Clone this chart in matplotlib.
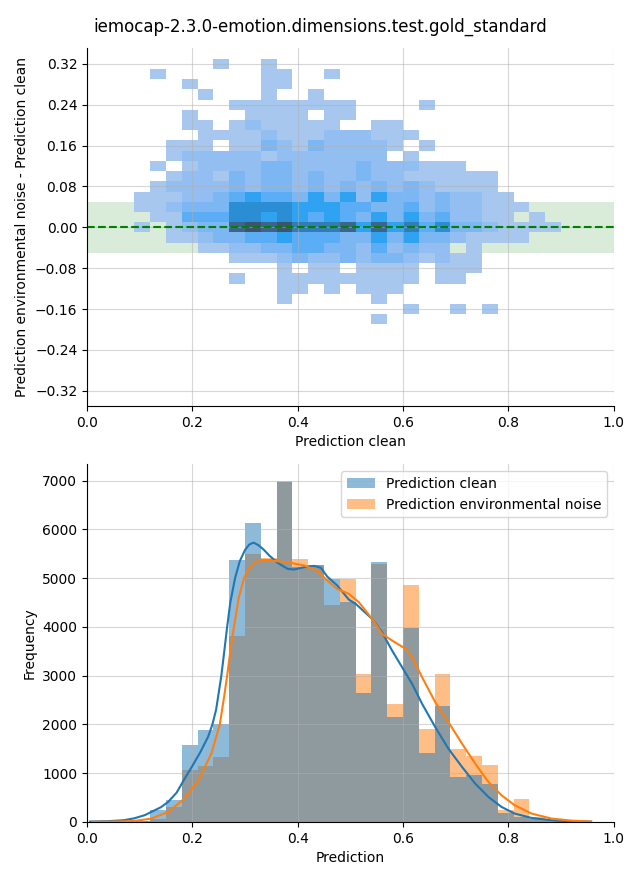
import numpy as np
import matplotlib
matplotlib.use("Agg")
import matplotlib.pyplot as plt
import seaborn as sns

title = "iemocap-2.3.0-emotion.dimensions.test.gold_standard"

# bins used by both panels
bin_width = 0.03
x_edges = np.round(np.arange(33) * bin_width, 3)
y_edges = np.round(-0.19 + np.arange(27) * 0.02, 3)

# top panel: 2D histogram read as shade levels (0 empty .. 9 darkest)
# one row per y bin, from top (0.32) to bottom (-0.18), one char per x bin
diff_rows = [
    "........1..1",
    "....1......11..1",
    "......1....11",
    ".......1...1..1",
    ".........11111111....1",
    "......1...1111.11",
    "......11.1211111..11",
    ".......11112111222111",
    ".....111.11321322221.1",
    ".....12222212222222.1",
    "....1.122223322223222111",
    ".....122132332322322111111",
    "....1222232332323232321111",
    "...111223454435352533232211",
    "...1123336666555443342322111",
    "....11444665654543535342211.1",
    "...1.1233898977785857463321111",
    ".....11233445444335353321111",
    ".......1122334433242322.1",
    ".........1112322323321211",
    "............1.11.1111.111",
    ".........1..111111111.11",
    "............11.1.111",
    "............1.....1",
    "....................1..1.1",
    "..................1",
]
level_counts = [0, 50, 230, 400, 600, 860, 1250, 1600, 2050, 2400]

# bottom panel: histogram counts per bin
clean_counts = [5, 5, 10, 20, 240, 440, 1570, 1880, 2015, 5380, 6130, 5400,
                6970, 5225, 5270, 4990, 4520, 2640, 5340, 2145, 3980, 1414,
                2370, 922, 956, 770, 185, 100, 60, 30, 10, 5]
noise_counts = [0, 2, 5, 10, 65, 300, 1060, 1150, 1330, 3810, 5490, 5420,
                6990, 5400, 5265, 4440, 4990, 3030, 5300, 2410, 4870, 1900,
                3030, 1490, 1346, 1160, 253, 480, 100, 40, 15, 5]

# kde curves (scaled to counts)
kde_clean_x = [0.006, 0.04, 0.07, 0.09, 0.11, 0.122, 0.14, 0.154, 0.17, 0.185,
               0.2, 0.215, 0.23, 0.238, 0.245, 0.25, 0.255, 0.26, 0.266, 0.272,
               0.281, 0.29, 0.3, 0.308, 0.316, 0.325, 0.335, 0.346, 0.362, 0.381,
               0.393, 0.412, 0.431, 0.444, 0.456, 0.475, 0.497, 0.51, 0.541, 0.56,
               0.579, 0.598, 0.617, 0.636, 0.661, 0.686, 0.712, 0.737, 0.762, 0.787,
               0.812, 0.844, 0.882, 0.919, 0.957]
kde_clean_y = [8, 15, 35, 75, 140, 205, 300, 410, 600, 880,
               1150, 1430, 1750, 2000, 2300, 2650, 3000, 3450, 4000, 4500,
               5000, 5350, 5580, 5690, 5730, 5680, 5590, 5465, 5314, 5191,
               5178, 5225, 5253, 5212, 5034, 4850, 4560, 4474, 4167, 3893,
               3518, 3176, 2835, 2425, 1947, 1503, 1127, 786, 512, 307,
               171, 82, 34, 14, 7]
kde_noise_x = [0.01, 0.04, 0.07, 0.09, 0.122, 0.154, 0.185, 0.211, 0.218, 0.236,
               0.252, 0.26, 0.266, 0.272, 0.279, 0.288, 0.298, 0.305, 0.318, 0.337,
               0.362, 0.387, 0.412, 0.437, 0.456, 0.475, 0.497, 0.516, 0.541, 0.56,
               0.579, 0.605, 0.617, 0.636, 0.661, 0.686, 0.712, 0.737, 0.762, 0.787,
               0.812, 0.844, 0.882, 0.919, 0.957]
kde_noise_y = [2, 5, 12, 20, 68, 205, 478, 854, 1000, 1400,
               2000, 2550, 3000, 3500, 4000, 4600, 5000, 5157, 5328, 5376,
               5348, 5314, 5260, 5157, 4952, 4781, 4679, 4508, 4167, 3859,
               3722, 3552, 3381, 2971, 2459, 2049, 1605, 1195, 820, 546,
               341, 171, 68, 27, 7]

# turn the level grid into weighted points at the bin centres
x_centers = (x_edges[:-1] + x_edges[1:]) / 2
y_centers = (y_edges[:-1] + y_edges[1:]) / 2
cell_x, cell_y, cell_w = [], [], []
for row, yc in zip(diff_rows, y_centers[::-1]):
    for ch, xc in zip(row.ljust(len(x_centers), "."), x_centers):
        if ch != ".":
            cell_x.append(xc)
            cell_y.append(yc)
            cell_w.append(level_counts[int(ch)])

fig, (ax1, ax2) = plt.subplots(2, 1, figsize=(6.4, 8.8))
fig.subplots_adjust(left=0.136, right=0.959, top=0.945, bottom=0.066, hspace=0.162)
fig.suptitle(title, fontsize=12)

# 2D histogram of differences
ax1.axhspan(-0.05, 0.05, color="green", alpha=0.15, lw=0)
sns.histplot(x=cell_x, y=cell_y, weights=cell_w, bins=[x_edges, y_edges], ax=ax1)
ax1.axhline(0, color="green", ls="--", lw=1.5)
ax1.set_xlim(0, 1)
ax1.set_ylim(-0.35, 0.35)
ax1.set_yticks(np.round(np.arange(-0.32, 0.33, 0.08), 2))
ax1.set_xlabel("Prediction clean")
ax1.set_ylabel("Prediction environmental noise - Prediction clean")
ax1.grid(alpha=0.5)

# overlaid histograms (noise underneath, clean on top)
b_noise = ax2.bar(x_edges[:-1], noise_counts, width=bin_width, align="edge",
                  color="C1", alpha=0.5, lw=0, label="Prediction environmental noise")
b_clean = ax2.bar(x_edges[:-1], clean_counts, width=bin_width, align="edge",
                  color="C0", alpha=0.5, lw=0, label="Prediction clean")
ax2.plot(kde_clean_x, kde_clean_y, color="C0", lw=1.5)
ax2.plot(kde_noise_x, kde_noise_y, color="C1", lw=1.5)
ax2.set_xlim(0, 1)
ax2.set_xlabel("Prediction")
ax2.set_ylabel("Frequency")
ax2.grid(alpha=0.5)
ax2.legend(handles=[b_clean, b_noise], loc="upper right")

for ax in (ax1, ax2):
    ax.spines[["top", "right"]].set_visible(False)

fig.savefig("out.png", dpi=100)
